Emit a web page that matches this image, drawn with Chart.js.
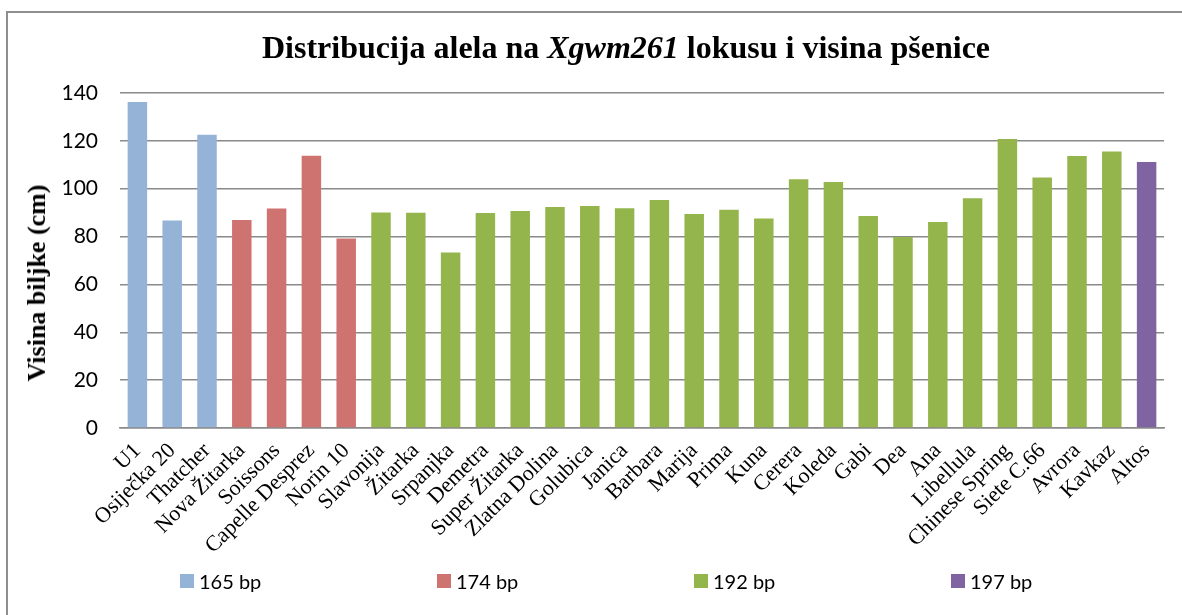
<!DOCTYPE html>
<html>
<head>
<meta charset="utf-8">
<script src="https://cdn.jsdelivr.net/npm/chart.js@4/dist/chart.umd.min.js"></script>
<style>
	html, body { margin: 0; padding: 0; background: #fff; }
	#wrap { position: relative; width: 1182px; height: 615px; overflow: hidden; }
	#frame { position: absolute; left: 6px; top: 11px; width: 1200px; height: 640px; border: 2px solid #8e8e8e; }
	#chartCanvas { position: absolute; left: 0; top: 0; }
	#title { position: absolute; left: 0; width: 1252px; top: 29px; line-height: 36px; text-align: center; font: bold 32px "Liberation Serif", serif; color: #000; }
	#ytitle { position: absolute; left: 37px; top: 283px; white-space: nowrap; transform: translate(-50%, -50%) rotate(-90deg); font: bold 26px "Liberation Serif", serif; color: #000; }
	#legend { position: absolute; left: 180px; top: 569px; display: flex; font: 20px Lato, sans-serif; color: #000; }
	.item { width: 257px; display: flex; align-items: center; }
	.box { width: 14px; height: 14px; margin-right: 5px; }
</style>
</head>
<body>
<div id="wrap">
	<div id="frame"></div>
	<canvas id="chartCanvas" width="1182" height="615"></canvas>
	<div id="title">Distribucija alela na <i>Xgwm261</i> lokusu i visina pšenice</div>
	<div id="ytitle">Visina biljke (cm)</div>
	<div id="legend"></div>
</div>
<script>
// cultivars and plant height (cm)
const categories = ['U1', 'Osiječka 20', 'Thatcher', 'Nova Žitarka', 'Soissons', 'Capelle Desprez', 'Norin 10',
	'Slavonija', 'Žitarka', 'Srpanjka', 'Demetra', 'Super Žitarka', 'Zlatna Dolina', 'Golubica', 'Janica',
	'Barbara', 'Marija', 'Prima', 'Kuna', 'Cerera', 'Koleda', 'Gabi', 'Dea', 'Ana', 'Libellula',
	'Chinese Spring', 'Siete C.66', 'Avrora', 'Kavkaz', 'Altos'];
const heights = [136.2, 86.7, 122.6, 86.9, 91.7, 113.8, 79.2,
	90.1, 90.0, 73.3, 89.8, 90.7, 92.4, 92.8, 91.8,
	95.3, 89.4, 91.2, 87.5, 104.0, 102.8, 88.6, 79.8, 86.1, 96.0,
	120.8, 104.7, 113.7, 115.6, 111.2];
// allele group of each cultivar (index into alleles)
const alleleOf = [0, 0, 0, 1, 1, 1, 1,
	2, 2, 2, 2, 2, 2, 2, 2,
	2, 2, 2, 2, 2, 2, 2, 2, 2, 2,
	2, 2, 2, 2, 3];
const alleles = ['165 bp', '174 bp', '192 bp', '197 bp'];
const colors = ['#95b3d7', '#cf7370', '#94b54c', '#8064a2'];
const yTicks = [0, 20, 40, 60, 80, 100, 120, 140];

let datasets = alleles.map(function (name, g) {
	return {
		label: name,
		data: heights.map(function (v, i) { return alleleOf[i] === g ? v : null; }),
		backgroundColor: colors[g],
		borderWidth: 0
	};
});

let legendHtml = '';
alleles.forEach(function (name, g) {
	legendHtml += '<div class="item"><span class="box" style="background:' + colors[g] + '"></span>' + name + '</div>';
});
document.getElementById('legend').innerHTML = legendHtml;

new Chart(document.getElementById('chartCanvas').getContext('2d'), {
	type: 'bar',
	data: { labels: categories, datasets: datasets },
	options: {
		responsive: false,
		animation: false,
		grouped: false,
		skipNull: true,
		categoryPercentage: 1,
		barPercentage: 0.56,
		layout: { padding: { left: 0, right: 18, top: 93, bottom: 54 } },
		plugins: { legend: { display: false }, tooltip: { enabled: false } },
		scales: {
			x: {
				grid: { display: false },
				border: { display: true, color: '#8a8a8a', width: 1.5 },
				ticks: {
					autoSkip: false, maxRotation: 45, minRotation: 45, padding: 2,
					color: '#000', font: { family: 'Liberation Serif', size: 22 }
				}
			},
			y: {
				min: 0, max: 140,
				afterBuildTicks: function (axis) { axis.ticks = yTicks.map(function (v) { return { value: v }; }); },
				afterFit: function (axis) { axis.width = 120; },
				grid: { color: '#8a8a8a', lineWidth: 1.5, drawTicks: false },
				border: { display: false },
				ticks: { padding: 22, color: '#000', font: { family: 'Lato', size: 21 } }
			}
		}
	}
});
</script>
</body>
</html>
